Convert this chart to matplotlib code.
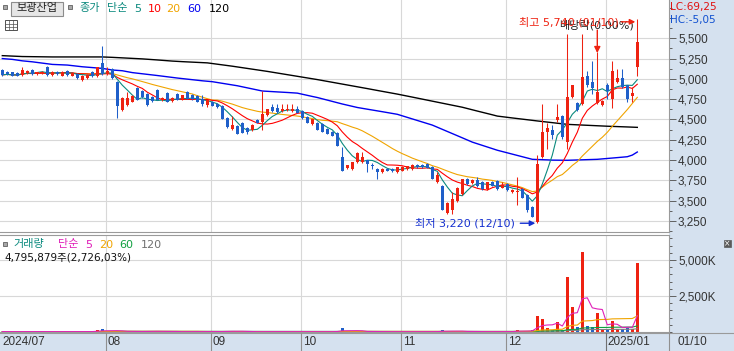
import numpy as np
import pandas as pd
import matplotlib
matplotlib.use("Agg")
import matplotlib.pyplot as plt
import matplotlib.transforms as mtransforms
from matplotlib.patches import Rectangle
from matplotlib.ticker import FixedLocator, MultipleLocator, FuncFormatter

# trading days shown (KRX holidays removed)
holidays = ["2024-08-15", "2024-09-16", "2024-09-17", "2024-09-18", "2024-10-01",
            "2024-10-03", "2024-10-09", "2024-12-25", "2024-12-31", "2025-01-01"]
dates = pd.bdate_range("2024-07-03", "2025-01-10", freq="C", holidays=holidays)

opens = [
    5110, 5090, 5080, 5070, 5050, 5070, 5110, 5060, 5070, 5150,
    5050, 5090, 5040, 5100, 5040, 5060, 4990, 5010, 5090, 5030,
    5190, 5060, 5120, 4960, 4610, 4675, 4720, 4890, 4855, 4815,
    4780, 4860, 4735, 4830, 4725, 4815, 4755, 4835, 4805, 4785,
    4755, 4680, 4720, 4690, 4665, 4520, 4380, 4415, 4460, 4395,
    4365, 4495, 4465, 4550, 4650, 4640, 4600, 4610, 4600, 4630,
    4600, 4535, 4445, 4460, 4440, 4385, 4345, 4330, 4040, 3895,
    3885, 3975, 3975, 3995, 3930, 3890, 3850, 3890, 3885, 3850,
    3870, 3885, 3890, 3935, 3935, 3955, 3910, 3725, 3680, 3345,
    3385, 3490, 3575, 3765, 3715, 3755, 3730, 3645, 3730, 3745,
    3660, 3700, 3600, 3600, 3645, 3565, 3420, 3240, 4035, 4340,
    4375, 4495, 4540, 4220, 4775, 4705, 4695, 5040, 4965, 4705,
    4675, 4925, 4755, 4960, 5010, 4920, 4785, 5145]
highs = [
    5120, 5100, 5090, 5080, 5140, 5110, 5120, 5090, 5100, 5160,
    5100, 5100, 5100, 5110, 5080, 5070, 5050, 5060, 5100, 5150,
    5410, 5140, 5130, 4970, 4780, 4840, 4800, 4900, 4865, 4825,
    4790, 4870, 4775, 4840, 4775, 4825, 4800, 4845, 4815, 4795,
    4805, 4740, 4730, 4700, 4675, 4530, 4540, 4425, 4470, 4405,
    4445, 4505, 4855, 4630, 4690, 4690, 4690, 4690, 4690, 4665,
    4610, 4545, 4510, 4470, 4450, 4395, 4355, 4340, 4165, 3940,
    3980, 4100, 4100, 4005, 3960, 3900, 3895, 3900, 3895, 3915,
    3920, 3930, 3945, 3955, 3945, 3965, 3920, 3850, 3690, 3480,
    3600, 3670, 3770, 3775, 3765, 3785, 3740, 3730, 3740, 3755,
    3730, 3710, 3640, 3790, 3655, 3575, 3430, 4060, 4695, 4450,
    4425, 4695, 4550, 5555, 4930, 4715, 5555, 5100, 5225, 5330,
    4735, 4950, 5225, 5125, 5125, 4930, 4900, 5740]
lows = [
    5040, 5050, 5030, 5030, 5040, 5060, 5050, 5050, 5060, 5040,
    5040, 5050, 5030, 5040, 5030, 5000, 4975, 5000, 5020, 5020,
    5050, 5050, 5000, 4520, 4600, 4665, 4710, 4740, 4770, 4670,
    4720, 4740, 4725, 4715, 4715, 4740, 4745, 4750, 4745, 4715,
    4665, 4650, 4665, 4645, 4500, 4400, 4370, 4315, 4330, 4315,
    4355, 4455, 4365, 4540, 4590, 4585, 4590, 4605, 4590, 4575,
    4510, 4455, 4425, 4370, 4345, 4315, 4295, 4170, 3860, 3885,
    3875, 3965, 3965, 3850, 3890, 3765, 3840, 3860, 3850, 3840,
    3860, 3875, 3880, 3905, 3905, 3895, 3760, 3715, 3380, 3335,
    3340, 3480, 3565, 3695, 3705, 3665, 3635, 3635, 3675, 3635,
    3650, 3620, 3590, 3440, 3530, 3360, 3295, 3220, 4030, 4140,
    4260, 4470, 4260, 4140, 4760, 4600, 4680, 4895, 4815, 4690,
    4670, 4755, 4640, 4950, 4890, 4710, 4710, 5040]
closes = [
    5050, 5060, 5040, 5040, 5110, 5100, 5060, 5080, 5090, 5050,
    5090, 5060, 5090, 5050, 5070, 5010, 5040, 5050, 5030, 5140,
    5060, 5100, 5010, 4670, 4770, 4760, 4790, 4745, 4775, 4675,
    4725, 4745, 4770, 4720, 4765, 4745, 4795, 4755, 4755, 4720,
    4690, 4735, 4670, 4650, 4510, 4405, 4425, 4325, 4335, 4345,
    4425, 4460, 4570, 4625, 4600, 4590, 4630, 4630, 4630, 4580,
    4515, 4460, 4505, 4375, 4350, 4325, 4300, 4175, 3870, 3935,
    3975, 4080, 4040, 3955, 3920, 3850, 3890, 3870, 3860, 3910,
    3910, 3925, 3940, 3910, 3910, 3900, 3765, 3815, 3385, 3470,
    3515, 3660, 3765, 3700, 3755, 3675, 3640, 3725, 3680, 3640,
    3690, 3630, 3625, 3620, 3535, 3380, 3300, 3955, 4345, 4395,
    4305, 4530, 4285, 4775, 4920, 4610, 5020, 4925, 4885, 4835,
    4725, 4845, 5100, 5010, 4900, 4755, 4830, 5450]

# long moving averages (their history starts before the window)
ma60 = [
    5250, 5245, 5240, 5231, 5222, 5216, 5210, 5202, 5194, 5186,
    5178, 5175, 5172, 5170, 5163, 5156, 5149, 5144, 5139, 5134,
    5129, 5119, 5109, 5105, 5100, 5089, 5077, 5070, 5063, 5056,
    5049, 5041, 5033, 5025, 5018, 5010, 5003, 4995, 4988, 4982,
    4976, 4971, 4965, 4955, 4945, 4935, 4925, 4915, 4902, 4889,
    4876, 4863, 4850, 4846, 4843, 4839, 4836, 4832, 4828, 4824,
    4810, 4797, 4783, 4770, 4754, 4737, 4721, 4705, 4690, 4676,
    4661, 4647, 4636, 4626, 4616, 4605, 4595, 4584, 4574, 4563,
    4544, 4525, 4506, 4487, 4468, 4449, 4430, 4404, 4378, 4351,
    4325, 4299, 4273, 4246, 4220, 4200, 4180, 4160, 4140, 4120,
    4104, 4088, 4073, 4057, 4041, 4024, 4008, 4006, 4003, 4001,
    3998, 3997, 3997, 3996, 3998, 4000, 4002, 4004, 4006, 4008,
    4013, 4019, 4024, 4029, 4035, 4040, 4060, 4098]
ma120 = [
    5286, 5283, 5280, 5278, 5275, 5274, 5273, 5272, 5271, 5270,
    5270, 5270, 5270, 5270, 5270, 5270, 5270, 5270, 5270, 5270,
    5270, 5268, 5265, 5262, 5260, 5256, 5253, 5250, 5246, 5242,
    5238, 5233, 5228, 5222, 5219, 5215, 5212, 5209, 5206, 5203,
    5200, 5197, 5189, 5181, 5172, 5164, 5156, 5147, 5138, 5129,
    5120, 5111, 5102, 5092, 5082, 5072, 5062, 5052, 5043, 5033,
    5022, 5012, 5001, 4991, 4980, 4970, 4959, 4948, 4936, 4925,
    4914, 4902, 4891, 4880, 4868, 4857, 4846, 4834, 4823, 4812,
    4800, 4788, 4775, 4762, 4750, 4738, 4725, 4712, 4700, 4688,
    4675, 4662, 4650, 4634, 4619, 4603, 4588, 4572, 4557, 4541,
    4533, 4526, 4518, 4511, 4503, 4496, 4488, 4481, 4474, 4467,
    4460, 4453, 4446, 4439, 4436, 4433, 4430, 4427, 4424, 4421,
    4418, 4416, 4414, 4412, 4410, 4407, 4404, 4402]

# volume in thousands of shares
volume_k = [
    30, 25, 20, 35, 40, 25, 30, 20, 25, 45,
    30, 20, 25, 30, 20, 35, 30, 25, 40, 110,
    190, 50, 35, 70, 45, 40, 30, 35, 25, 70,
    30, 75, 25, 30, 25, 20, 20, 25, 20, 30,
    25, 20, 25, 20, 65, 70, 55, 30, 25, 20,
    25, 20, 45, 25, 20, 20, 15, 15, 20, 15,
    25, 20, 30, 20, 25, 20, 25, 80, 260, 50,
    40, 35, 40, 30, 25, 30, 25, 20, 20, 25,
    20, 20, 25, 20, 20, 25, 40, 30, 120, 50,
    40, 45, 40, 30, 25, 30, 25, 20, 25, 20,
    30, 35, 30, 150, 40, 60, 110, 1110, 900, 250,
    120, 690, 110, 3820, 1735, 350, 5550, 415, 350, 1340,
    160, 220, 760, 200, 230, 250, 176, 4796]

price_ticks = [3250, 3500, 3750, 4000, 4250, 4500, 4750, 5000, 5250, 5500]
vol_ticks = [2500, 5000]
ex_div_date = "2024-12-27"

RED = "#EE2211"
BLUE = "#1F5FC9"
TEAL = "#0B8A7E"
ORANGE = "#F0A400"
LIGHT = "#D5E1EF"
GRID = "#D8D8D8"
EDGE = "#9A9A9A"
KR = ["DejaVu Sans", "Noto Sans CJK KR"]
AXF = "Liberation Sans"

W, H = 734, 351
XL0, XL1 = -0.46, 133.34


def box(x0, y0, x1, y1):
    return [x0 / W, 1 - y1 / H, (x1 - x0) / W, (y1 - y0) / H]


def xpix(j):
    return (j - XL0) / (XL1 - XL0) * 669


fig = plt.figure(figsize=(W / 100, H / 100), dpi=100)
fig.patch.set_facecolor("white")

bg = fig.add_axes([0, 0, 1, 1], zorder=0)
bg.set_xlim(0, W)
bg.set_ylim(H, 0)
bg.axis("off")
bg.add_patch(Rectangle((669, 0), W - 669, 333, color=LIGHT, lw=0))
bg.add_patch(Rectangle((0, 333), W, H - 333, color=LIGHT, lw=0))

ax = fig.add_axes(box(0, 0, 669, 232), zorder=1)
axv = fig.add_axes(box(0, 235, 669, 332), zorder=1)

n = len(dates)
x = np.arange(n)
o, h, l, c = (np.array(v, dtype=float) for v in (opens, highs, lows, closes))
cols = np.where(c >= o, RED, BLUE)
close_s = pd.Series(c)

# ---- price panel
ax.vlines(x, l, h, colors=cols, lw=0.75, zorder=4)
ax.bar(x, np.maximum(np.abs(c - o), 12), bottom=np.minimum(o, c), width=0.72,
       color=cols, linewidth=0, zorder=5)
ax.plot(x, ma120, color="black", lw=1.0, zorder=3)
ax.plot(x, ma60, color="#0000F0", lw=1.0, zorder=3)
ax.plot(x, close_s.rolling(20, min_periods=1).mean(), color=ORANGE, lw=0.8, zorder=3)
ax.plot(x, close_s.rolling(10, min_periods=1).mean(), color="#FF0000", lw=0.8, zorder=3)
ax.plot(x, close_s.rolling(5, min_periods=1).mean(), color=TEAL, lw=0.8, zorder=3)

ax.set_xlim(XL0, XL1)
ax.set_ylim(3112, 5972)

# ---- volume panel
vol = np.array(volume_k, dtype=float)
vol_s = pd.Series(vol)
axv.bar(x, vol, width=0.6, color=cols, linewidth=0, zorder=1.5)
axv.plot(x, vol_s.rolling(120, min_periods=1).mean(), color="#808080", lw=0.8, zorder=2)
axv.plot(x, vol_s.rolling(60, min_periods=1).mean(), color="#10A040", lw=0.8, zorder=2)
axv.plot(x, vol_s.rolling(20, min_periods=1).mean(), color=ORANGE, lw=0.8, zorder=2)
axv.plot(x, vol_s.rolling(5, min_periods=1).mean(), color="#E020B8", lw=0.8, zorder=2)
axv.set_xlim(XL0, XL1)
axv.set_ylim(0, 6736)

month_idx = [i for i in range(1, n) if dates[i].month != dates[i - 1].month]

for a, ticks in ((ax, price_ticks), (axv, vol_ticks)):
    a.set_facecolor("white")
    for t in ticks:
        a.axhline(t, color=GRID, lw=0.8, zorder=0.5)
    for k in month_idx:
        a.axvline(k - 0.3, color=GRID, lw=0.8, zorder=0.5)
    a.set_xticks([])
    a.spines["left"].set_visible(False)
    for s in ("top", "right", "bottom"):
        a.spines[s].set_color(EDGE)
        a.spines[s].set_linewidth(0.8)
    a.yaxis.tick_right()
    a.yaxis.set_major_locator(FixedLocator(ticks))
    a.tick_params(axis="y", which="major", length=5, width=0.7, color="#606060",
                  pad=1.5, labelsize=8.5, labelcolor="#333333")
    a.tick_params(axis="y", which="minor", length=2.5, width=0.7, color="#606060")
ax.spines["top"].set_visible(False)
ax.yaxis.set_minor_locator(MultipleLocator(125))
ax.yaxis.set_major_formatter(FuncFormatter(lambda v, p: f"{v:,.0f}"))
axv.yaxis.set_minor_locator(MultipleLocator(500))
axv.yaxis.set_major_formatter(FuncFormatter(lambda v, p: f"{v:,.0f}K"))
for a in (ax, axv):
    for lab in a.get_yticklabels():
        lab.set_family(AXF)

# ---- annotations on the price panel
jh = int(np.argmax(h))
jl = int(np.argmin(l))
jd = int(np.where(dates == pd.Timestamp(ex_div_date))[0][0])


def off(dx, dy):
    return mtransforms.offset_copy(ax.transData, fig=fig, x=dx, y=dy, units="dots")


ax.text(jh, h[jh], f"최고 {h[jh]:,.0f} ({dates[jh]:%m/%d})", transform=off(-19, -3),
        ha="right", va="center", color=RED, fontsize=8, family=KR, zorder=7)
ax.annotate("", xy=(jh, h[jh]), xycoords=off(-2, -3), xytext=(jh, h[jh]),
            textcoords=off(-16, -3),
            arrowprops=dict(arrowstyle="-|>", color=RED, lw=1, mutation_scale=8,
                            shrinkA=0, shrinkB=0), zorder=7)
ax.text(jd, h[jd], "배당락(0.00%)", transform=off(-1, 27), ha="center", va="center",
        color="#222222", fontsize=8, family=KR, zorder=6)
ax.annotate("", xy=(jd, h[jd]), xycoords=off(0, -1), xytext=(jd, h[jd]),
            textcoords=off(0, 22),
            arrowprops=dict(arrowstyle="-|>", color=RED, lw=1, mutation_scale=9,
                            shrinkA=0, shrinkB=0), zorder=7)
ax.text(jl, l[jl], f"최저 {l[jl]:,.0f} ({dates[jl]:%m/%d})", transform=off(-22, 0),
        ha="right", va="center", color="#1530D0", fontsize=8, family=KR, zorder=7)
ax.annotate("", xy=(jl, l[jl]), xycoords=off(-2, 0), xytext=(jl, l[jl]),
            textcoords=off(-17, 0),
            arrowprops=dict(arrowstyle="-|>", color="#1530D0", lw=1, mutation_scale=8,
                            shrinkA=0, shrinkB=0), zorder=7)

# ---- date band
bg.plot([0, W], [333, 333], color=EDGE, lw=0.8)
bg.text(2, 342, "2024/07", ha="left", va="center", fontsize=8.5, color="#333333",
        family=AXF)
for k in month_idx:
    px = xpix(k - 0.3)
    bg.plot([px, px], [333, H], color="#909090" if dates[k].month != 1 else "#707070",
            lw=0.8)
    lab = dates[k].strftime("%Y/%m") if dates[k].month == 1 else dates[k].strftime("%m")
    bg.text(px + 2, 342, lab, ha="left", va="center", fontsize=8.5, color="#333333",
            family=AXF)
bg.plot([669, 669], [333, H], color="#909090", lw=0.8)
bg.text(677, 342, dates[-1].strftime("%m/%d"), ha="left", va="center", fontsize=8.5,
        color="#333333", family=AXF)

# ---- overlay texts (legends, buttons)
ov = fig.add_axes([0, 0, 1, 1], zorder=3)
ov.set_xlim(0, W)
ov.set_ylim(H, 0)
ov.axis("off")
ov.patch.set_alpha(0)


def square(x0, y0):
    ov.add_patch(Rectangle((x0, y0), 4, 4, fc="#A8A8A8", ec="#606060", lw=0.6))


square(3, 5)
ov.add_patch(Rectangle((11, 1.5), 52, 14, fc="#E6E6E6", ec="#8C8C8C", lw=0.8))
ov.text(37, 8.5, "보광산업", ha="center", va="center", fontsize=8, color="#222222",
        family=KR)
square(68, 5)
legend_items = [(79, "종가", TEAL), (107, "단순", TEAL), (134, "5", TEAL),
                (148, "10", "#FF0000"), (166, "20", ORANGE), (187, "60", "#0000F0"),
                (209, "120", "black")]
for xx, t, col in legend_items:
    ov.text(xx, 8.5, t, ha="left", va="center", fontsize=8, color=col, family=KR)
ov.add_patch(Rectangle((5, 20), 12, 10, fill=False, ec="#505050", lw=0.7))
for yy in (23.5, 27):
    ov.plot([5, 17], [yy, yy], color="#505050", lw=0.5)
for xx in (9, 13):
    ov.plot([xx, xx], [20, 30], color="#505050", lw=0.5)

square(3, 242)
vol_items = [(13, "거래량", TEAL), (58, "단순", "#E020B8"), (85, "5", "#E020B8"),
             (99, "20", ORANGE), (119, "60", "#10A040"), (141, "120", "#707070")]
for xx, t, col in vol_items:
    ov.text(xx, 244.5, t, ha="left", va="center", fontsize=8, color=col, family=KR)
ov.text(4, 257, "4,795,879주(2,726,03%)", ha="left", va="center", fontsize=7.5,
        color="#111111", family=KR)

ov.text(670, 7, "LC:69,25", ha="left", va="center", fontsize=7.5, color="#E01010",
        family="DejaVu Sans")
ov.text(670, 19.5, "HC:-5,05", ha="left", va="center", fontsize=7.5, color="#1050D0",
        family="DejaVu Sans")
ov.add_patch(Rectangle((724, 240), 7, 7, fc="#5A5A5A", ec="#5A5A5A", lw=0.5))
ov.text(727.5, 243.5, "×", ha="center", va="center", fontsize=5.5, color="white")

fig.savefig("out.png", dpi=100)
